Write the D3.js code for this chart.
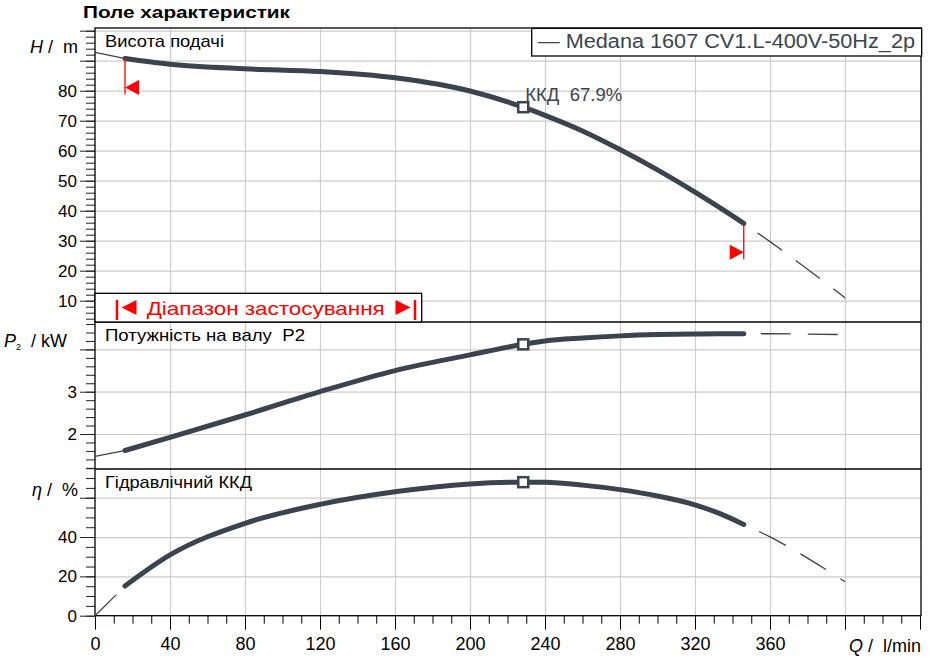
<!DOCTYPE html>
<html>
<head>
<meta charset="utf-8">
<title>Поле характеристик</title>
<script src="https://d3js.org/d3.v7.min.js"></script>
<style>
    body { margin: 0; background: #fff; }
    svg text { font-family: "Liberation Sans", Arial, sans-serif; white-space: pre; }
    .gridlines line { stroke: #cccccc; stroke-width: 1.2; }
    .gridlines .domain { stroke: none; }
</style>
</head>
<body>
<svg id="chart" width="944" height="660"></svg>
<script>
// Data
const flow  = [0,    16,   40,   80,   120,  160,  200,  228.4, 240,  260,  280,  300,  320,  333,  346,  360,  380,  400];
const head  = [92.8, 90.7, 88.8, 87.3, 86.4, 84.3, 79.9, 74.5,  71.8, 66.6, 60.4, 53.6, 46.2, 41.1, 35.8, 29.7, 20.5, 11.0];
const power = [1.47, 1.61, 1.92, 2.45, 3.0,  3.5,  3.87, 4.12,  4.20, 4.27, 4.32, 4.35, 4.365,4.37, 4.37, 4.37, 4.36, 4.35];
const effic = [0,    15.1, 30.9, 47.0, 56.6, 63.0, 67.0, 67.9,  67.8, 66.4, 64.1, 60.9, 56.4, 52.0, 46.4, 40.1, 29.3, 17.3];

const qMin = 16;          // start of application range
const qMax = 346;         // end of application range
const qBest = 228.4;      // best efficiency point
const bestEffLabel = "ККД  67.9%";

const xMajorTicks = d3.range(0, 441, 40);
const xLabelTicks = [0, 40, 80, 120, 160, 200, 240, 280, 320, 360];
const xMinorTicks = d3.range(0, 441, 10);

const hMajorTicks = d3.range(10, 101, 10);
const hLabelTicks = [10, 20, 30, 40, 50, 60, 70, 80];
const hMinorTicks = d3.range(4, 101, 2);

const pMajorTicks = [2, 3, 4];
const pLabelTicks = [2, 3];
const pMinorTicks = d3.range(1.2, 4.61, 0.2);

const eMajorTicks = [0, 20, 40, 60];
const eLabelTicks = [0, 20, 40];
const eMinorTicks = d3.range(0, 76, 5);

const titleText = "Поле характеристик";
const legendText = "— Medana 1607 CV1.L-400V-50Hz_2p";
const rangeText = "Діапазон застосування";

// Layout
const svg = d3.select("svg#chart");
const left = 95, right = 921;
const panelTops = [28, 322, 469];
const bottom = 615.7;
const curveColor = "#3b444e";
const fontFamily = '"Liberation Sans", Arial, sans-serif';

const x = d3.scaleLinear().domain([0, 440]).range([left, 920]);
const yH = d3.scaleLinear().domain([2.9, 100.9]).range([322, 28]);
const yP = d3.scaleLinear().domain([1.173, 4.648]).range([469, 322]);
const yE = d3.scaleLinear().domain([0, 74.6]).range([bottom, 469]);

const panels = [
    { scale: yH, values: head, major: hMajorTicks, labels: hLabelTicks, minor: hMinorTicks,
      name: "Висота подачі", nameWidth: 119, top: 28, bottom: 322 },
    { scale: yP, values: power, major: pMajorTicks, labels: pLabelTicks, minor: pMinorTicks,
      name: "Потужність на валу  P2", nameWidth: 200, top: 322, bottom: 469 },
    { scale: yE, values: effic, major: eMajorTicks, labels: eLabelTicks, minor: eMinorTicks,
      name: "Гідравлічний ККД", nameWidth: 147, top: 469, bottom: bottom }
];

let annotations = svg.append("g").attr("id", "annotations");
let chartArea = svg.append("g").attr("id", "chartArea");

// Gridlines
panels.forEach(p => {
    annotations.append("g")
        .attr("class", "gridlines")
        .attr("transform", `translate(${left},0)`)
        .call(d3.axisLeft(p.scale).tickValues(p.major.filter(v => p.scale(v) > p.top + 1 && p.scale(v) < p.bottom - 1))
              .tickSize(-(right - left)).tickFormat(""));
    annotations.append("g")
        .attr("class", "gridlines")
        .attr("transform", `translate(0,${p.bottom})`)
        .call(d3.axisBottom(x).tickValues(xMajorTicks.slice(1, -1))
              .tickSize(-(p.bottom - p.top)).tickFormat(""));
});

// Left axes (minor + major ticks)
panels.forEach(p => {
    annotations.append("g")
        .attr("transform", `translate(${left},0)`)
        .call(d3.axisLeft(p.scale).tickValues(p.minor).tickSize(9).tickSizeOuter(0).tickFormat(""))
        .call(g => g.select(".domain").remove())
        .call(g => g.selectAll("line").attr("stroke", "#222"));
    annotations.append("g")
        .attr("transform", `translate(${left},0)`)
        .call(d3.axisLeft(p.scale).tickValues(p.major).tickSize(15).tickPadding(3).tickSizeOuter(0)
              .tickFormat(d => p.labels.includes(d) ? d3.format("d")(d) : ""))
        .call(g => g.select(".domain").remove())
        .call(g => g.selectAll("line").attr("stroke", "#222"))
        .call(g => g.selectAll("text").attr("font-size", 17).attr("fill", "#000")
                     .attr("font-family", fontFamily));
});

// Bottom axis
annotations.append("g")
    .attr("transform", `translate(0,${bottom})`)
    .call(d3.axisBottom(x).tickValues(xMinorTicks).tickSize(8).tickSizeOuter(0).tickFormat(""))
    .call(g => g.select(".domain").remove());
annotations.append("g")
    .attr("transform", `translate(0,${bottom})`)
    .call(d3.axisBottom(x).tickValues(xMajorTicks).tickSize(14).tickPadding(8).tickSizeOuter(0)
          .tickFormat(d => xLabelTicks.includes(d) ? d : ""))
    .call(g => g.select(".domain").remove())
    .call(g => g.selectAll("text").attr("font-size", 18).attr("fill", "#000")
                 .attr("font-family", fontFamily));

// Frame and panel separators
const frame = annotations.append("g").attr("stroke", "#000").attr("stroke-width", 1.3);
frame.append("rect").attr("x", left).attr("y", 28).attr("width", right - left).attr("height", bottom - 28)
     .attr("fill", "none");
panelTops.slice(1).forEach(t => {
    frame.append("line").attr("x1", left).attr("x2", right).attr("y1", t).attr("y2", t);
});

// Axis titles
function axisTitle(xp, yp, italic, rest, sub) {
    let t = annotations.append("text").attr("x", xp).attr("y", yp).attr("font-size", 18).attr("fill", "#000");
    t.append("tspan").attr("font-style", "italic").text(italic);
    if (sub) t.append("tspan").attr("font-size", 9).attr("dy", 3).text(sub);
    t.append("tspan").attr("dy", sub ? -3 : 0).text(rest);
}
axisTitle(30, 53, "H", " /  m");
axisTitle(4, 347, "P", "  / kW", "2");
axisTitle(32, 496, "η", " /  %");

annotations.append("text").attr("x", 921).attr("y", 651.5).attr("text-anchor", "end")
    .attr("font-size", 18).attr("fill", "#000")
    .call(t => { t.append("tspan").attr("font-style", "italic").text("Q"); t.append("tspan").text(" /  l/min"); });

// Title
svg.append("text").attr("x", 83).attr("y", 18).attr("font-size", 17).attr("font-weight", "bold")
   .attr("fill", "#000").attr("textLength", 207).attr("lengthAdjust", "spacingAndGlyphs").text(titleText);

// Curves
const points = values => flow.map((q, i) => ({ q: q, v: values[i] }));
panels.forEach(p => {
    const pts = points(p.values);
    const lineGen = d3.line().x(d => x(d.q)).y(d => p.scale(d.v)).curve(d3.curveMonotoneX);
    chartArea.append("path")
        .attr("d", lineGen(pts.filter(d => d.q <= qMin)))
        .attr("fill", "none").attr("stroke", curveColor).attr("stroke-width", 1.3)
        .attr("stroke-dasharray", "30 17");
    chartArea.append("path")
        .attr("d", lineGen(pts.filter(d => d.q >= qMax)))
        .attr("fill", "none").attr("stroke", curveColor).attr("stroke-width", 1.3)
        .attr("stroke-dasharray", "30 17").attr("stroke-dashoffset", 30);
    chartArea.append("path")
        .attr("d", lineGen(pts.filter(d => d.q >= qMin && d.q <= qMax)))
        .attr("fill", "none").attr("stroke", curveColor).attr("stroke-width", 5)
        .attr("stroke-linecap", "round");
    const bi = flow.indexOf(qBest);
    chartArea.append("rect")
        .attr("x", x(qBest) - 5).attr("y", p.scale(p.values[bi]) - 5)
        .attr("width", 10).attr("height", 10)
        .attr("fill", "#fff").attr("stroke", curveColor).attr("stroke-width", 2.5);
    // Panel name
    annotations.append("text").attr("x", 105).attr("y", p.top + 19).attr("font-size", 17)
        .attr("fill", "#000").attr("textLength", p.nameWidth).attr("lengthAdjust", "spacingAndGlyphs")
        .text(p.name);
});

// Best efficiency label
chartArea.append("text")
    .attr("x", x(qBest) + 2).attr("y", yH(head[flow.indexOf(qBest)]) - 6)
    .attr("font-size", 18).attr("fill", curveColor)
    .attr("textLength", 97).attr("lengthAdjust", "spacingAndGlyphs").text(bestEffLabel);

// Application range markers on head curve
const red = "#ff0000";
[{ q: qMin, dir: -1 }, { q: qMax, dir: 1 }].forEach(m => {
    const hv = head[flow.indexOf(m.q)];
    const px = x(m.q), py = yH(hv);
    chartArea.append("line").attr("x1", px).attr("x2", px).attr("y1", py).attr("y2", py + 36)
        .attr("stroke", red).attr("stroke-width", 1.3);
    const cy = py + 29;
    chartArea.append("path")
        .attr("d", `M${px},${cy} L${px - m.dir * 14},${cy - 7.5} L${px - m.dir * 14},${cy + 7.5} Z`)
        .attr("fill", red);
});

// Application range box
const box = svg.append("g");
box.append("rect").attr("x", left).attr("y", 293.3).attr("width", 421.7 - left).attr("height", 322 - 293.3)
   .attr("fill", "#fff").attr("stroke", "#000").attr("stroke-width", 1.3);
[117, 415].forEach(bx => {
    box.append("line").attr("x1", bx).attr("x2", bx).attr("y1", 300).attr("y2", 320)
       .attr("stroke", red).attr("stroke-width", 2.5);
});
box.append("path").attr("d", "M121.5,307.5 L136.5,300 L136.5,315 Z").attr("fill", red);
box.append("path").attr("d", "M410.5,307.5 L395.5,300 L395.5,315 Z").attr("fill", red);
box.append("text").attr("x", 146.7).attr("y", 314.5)
   .attr("font-size", 19).attr("fill", red)
   .attr("textLength", 238).attr("lengthAdjust", "spacingAndGlyphs").text(rangeText);

// Legend
const legend = svg.append("g");
legend.append("rect").attr("x", 531.7).attr("y", 28.3).attr("width", 921.7 - 531.7).attr("height", 56 - 28.3)
      .attr("fill", "#fff").attr("stroke", "#000").attr("stroke-width", 1.3);
legend.append("text").attr("x", 538).attr("y", 48).attr("font-size", 19.5).attr("fill", curveColor)
      .attr("textLength", 377).attr("lengthAdjust", "spacingAndGlyphs").text(legendText);
</script>
</body>
</html>
